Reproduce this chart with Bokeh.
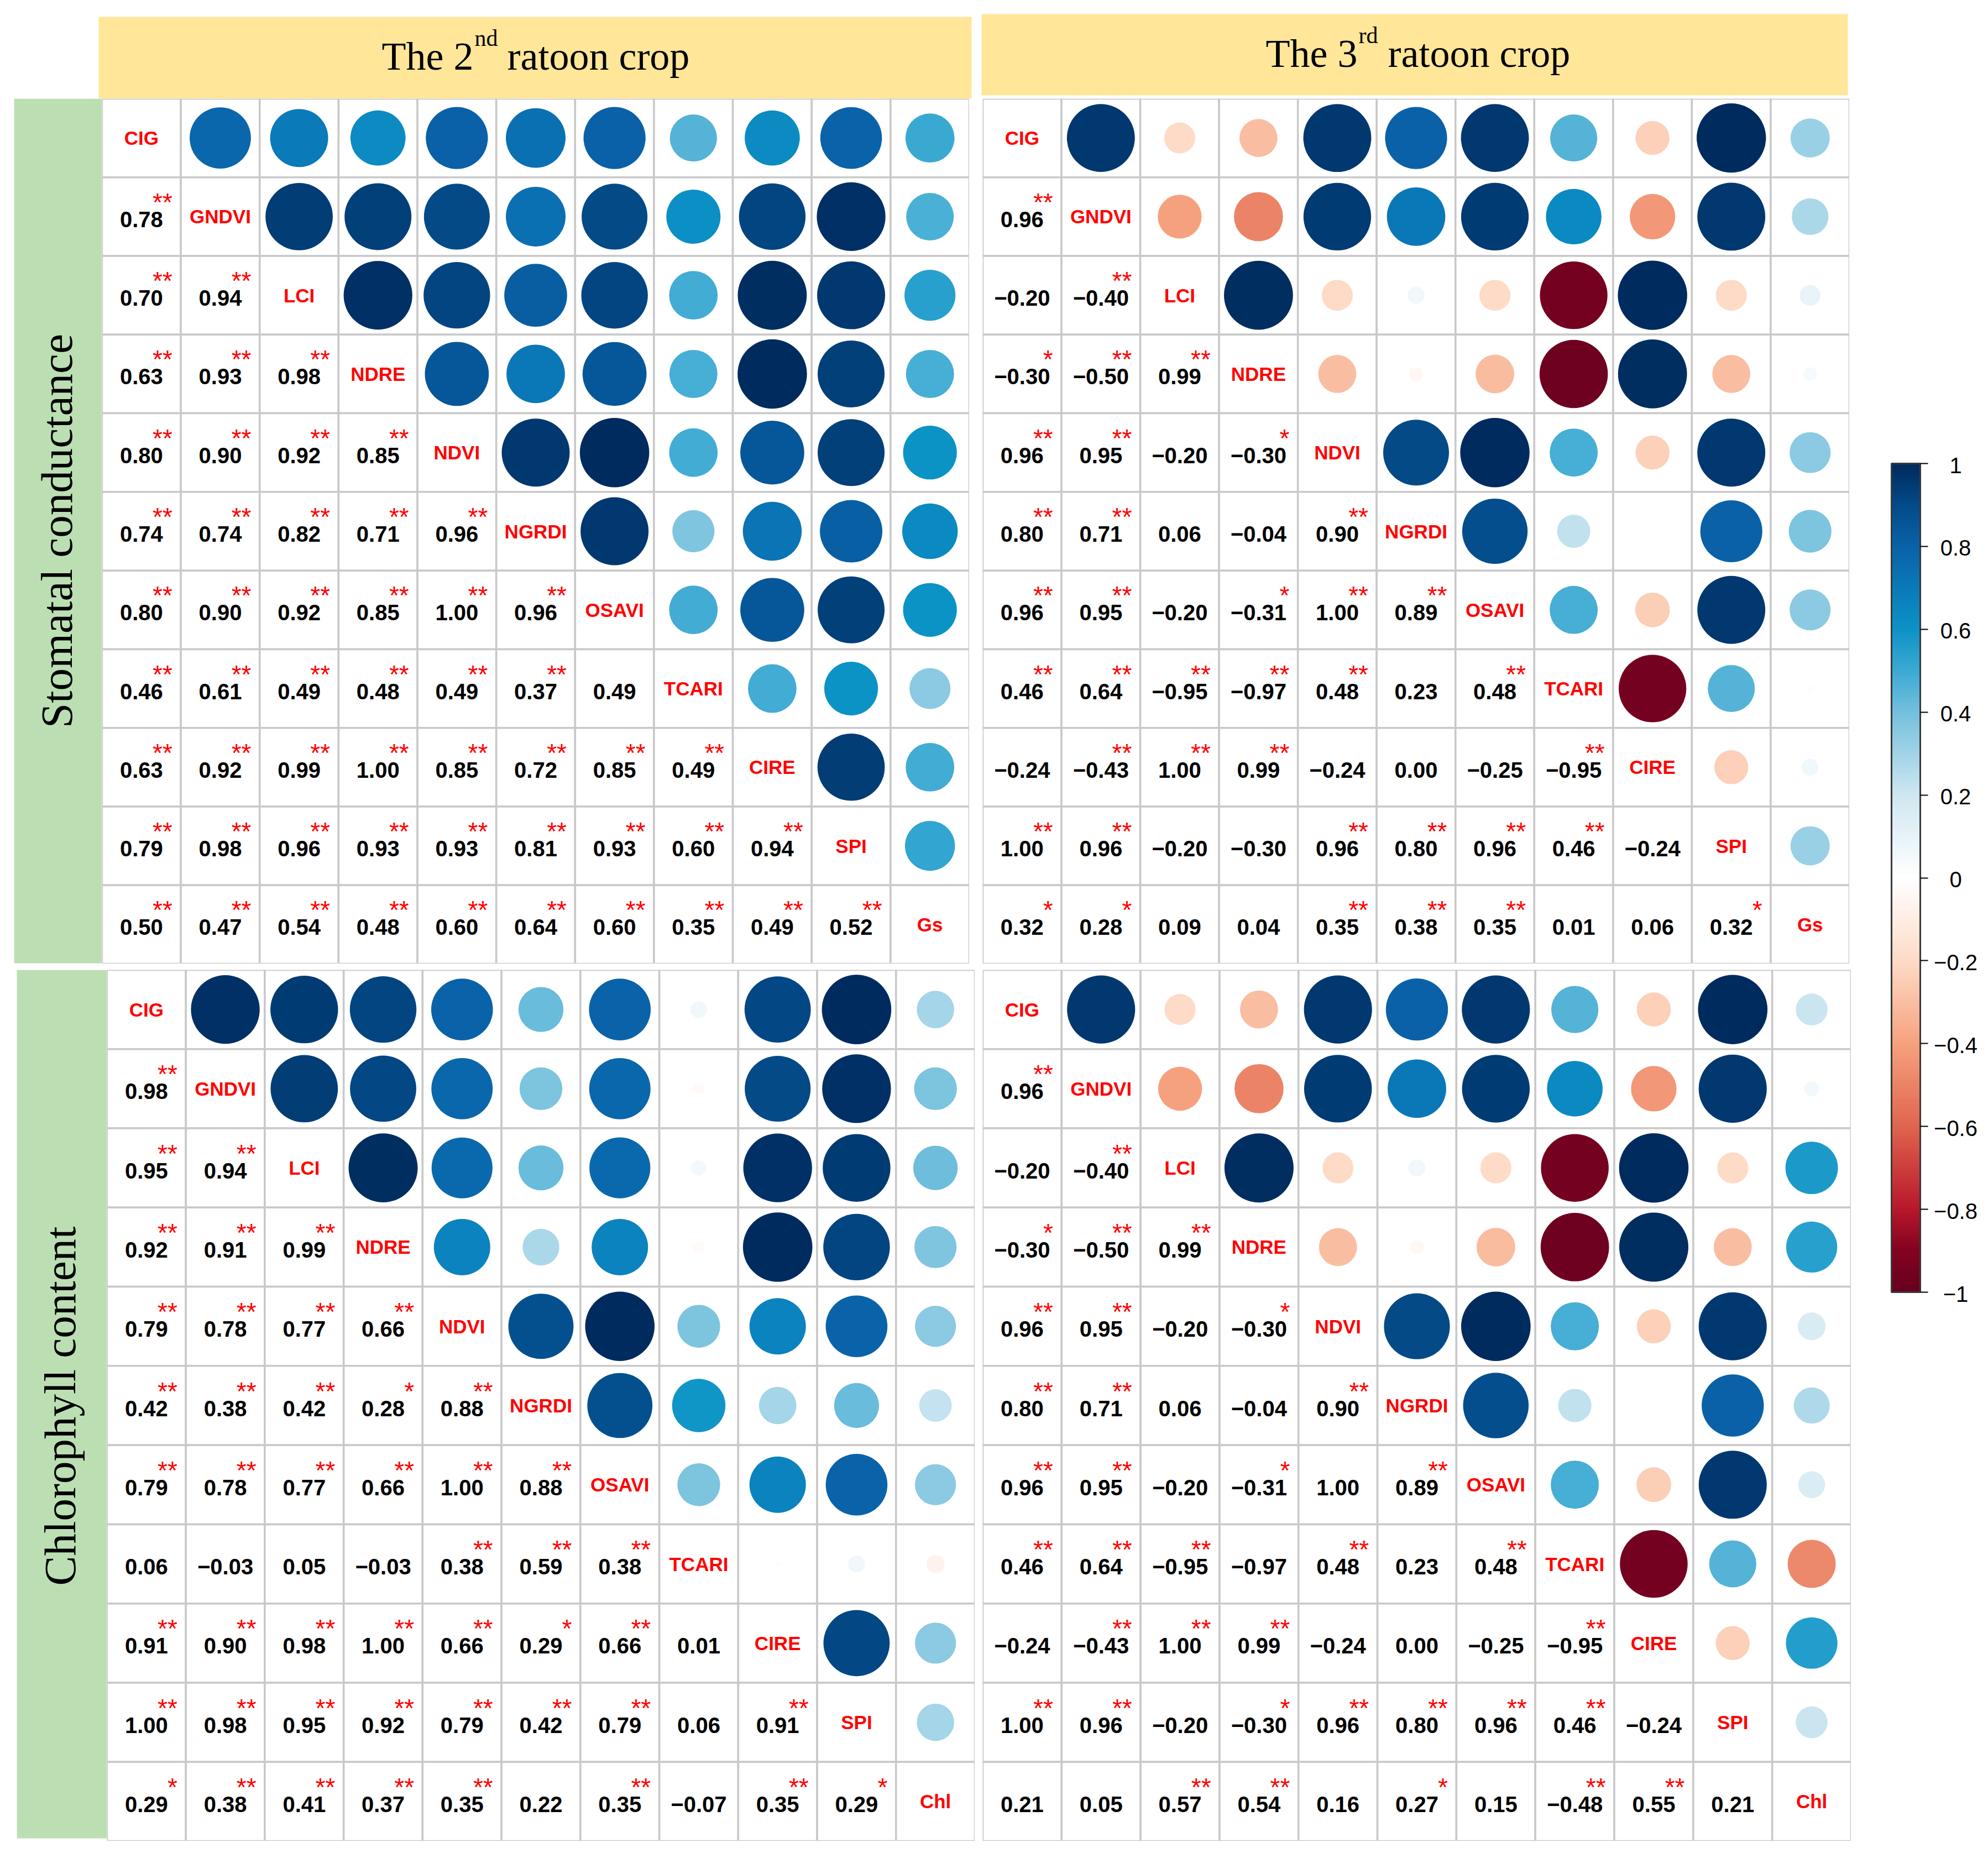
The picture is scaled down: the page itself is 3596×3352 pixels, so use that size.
import numpy as np
from bokeh.plotting import figure
from bokeh.models import (ColumnDataSource, LinearColorMapper, ColorBar, FixedTicker,
                          CustomJSTickFormatter, FactorRange, Range1d, Spacer)
from bokeh.layouts import row, column
from bokeh.transform import transform
from bokeh.core.properties import value
from bokeh.embed import file_html
from bokeh.resources import INLINE

# ---------------- data ----------------
VARS_GS = ["CIG", "GNDVI", "LCI", "NDRE", "NDVI", "NGRDI", "OSAVI", "TCARI", "CIRE", "SPI", "Gs"]
VARS_CHL = ["CIG", "GNDVI", "LCI", "NDRE", "NDVI", "NGRDI", "OSAVI", "TCARI", "CIRE", "SPI", "Chl"]

HEADER_NUM = ["2", "3"]
HEADER_SUP = ["nd", "rd"]
HEADER_REST = "ratoon crop"
SIDE_LABELS = ["Stomatal conductance", "Chlorophyll content"]

# 2nd ratoon crop, stomatal conductance (lower triangle, row by row)
R2_GS = [
    [],
    [0.78],
    [0.70, 0.94],
    [0.63, 0.93, 0.98],
    [0.80, 0.90, 0.92, 0.85],
    [0.74, 0.74, 0.82, 0.71, 0.96],
    [0.80, 0.90, 0.92, 0.85, 1.00, 0.96],
    [0.46, 0.61, 0.49, 0.48, 0.49, 0.37, 0.49],
    [0.63, 0.92, 0.99, 1.00, 0.85, 0.72, 0.85, 0.49],
    [0.79, 0.98, 0.96, 0.93, 0.93, 0.81, 0.93, 0.60, 0.94],
    [0.50, 0.47, 0.54, 0.48, 0.60, 0.64, 0.60, 0.35, 0.49, 0.52],
]
S2_GS = [
    [],
    ["**"],
    ["**", "**"],
    ["**", "**", "**"],
    ["**", "**", "**", "**"],
    ["**", "**", "**", "**", "**"],
    ["**", "**", "**", "**", "**", "**"],
    ["**", "**", "**", "**", "**", "**", ""],
    ["**", "**", "**", "**", "**", "**", "**", "**"],
    ["**", "**", "**", "**", "**", "**", "**", "**", "**"],
    ["**", "**", "**", "**", "**", "**", "**", "**", "**", "**"],
]

# 3rd ratoon crop, stomatal conductance
R3_GS = [
    [],
    [0.96],
    [-0.20, -0.40],
    [-0.30, -0.50, 0.99],
    [0.96, 0.95, -0.20, -0.30],
    [0.80, 0.71, 0.06, -0.04, 0.90],
    [0.96, 0.95, -0.20, -0.31, 1.00, 0.89],
    [0.46, 0.64, -0.95, -0.97, 0.48, 0.23, 0.48],
    [-0.24, -0.43, 1.00, 0.99, -0.24, 0.00, -0.25, -0.95],
    [1.00, 0.96, -0.20, -0.30, 0.96, 0.80, 0.96, 0.46, -0.24],
    [0.32, 0.28, 0.09, 0.04, 0.35, 0.38, 0.35, 0.01, 0.06, 0.32],
]
S3_GS = [
    [],
    ["**"],
    ["", "**"],
    ["*", "**", "**"],
    ["**", "**", "", "*"],
    ["**", "**", "", "", "**"],
    ["**", "**", "", "*", "**", "**"],
    ["**", "**", "**", "**", "**", "", "**"],
    ["", "**", "**", "**", "", "", "", "**"],
    ["**", "**", "", "", "**", "**", "**", "**", ""],
    ["*", "*", "", "", "**", "**", "**", "", "", "*"],
]

# 2nd ratoon crop, chlorophyll content
R2_CHL = [
    [],
    [0.98],
    [0.95, 0.94],
    [0.92, 0.91, 0.99],
    [0.79, 0.78, 0.77, 0.66],
    [0.42, 0.38, 0.42, 0.28, 0.88],
    [0.79, 0.78, 0.77, 0.66, 1.00, 0.88],
    [0.06, -0.03, 0.05, -0.03, 0.38, 0.59, 0.38],
    [0.91, 0.90, 0.98, 1.00, 0.66, 0.29, 0.66, 0.01],
    [1.00, 0.98, 0.95, 0.92, 0.79, 0.42, 0.79, 0.06, 0.91],
    [0.29, 0.38, 0.41, 0.37, 0.35, 0.22, 0.35, -0.07, 0.35, 0.29],
]
S2_CHL = [
    [],
    ["**"],
    ["**", "**"],
    ["**", "**", "**"],
    ["**", "**", "**", "**"],
    ["**", "**", "**", "*", "**"],
    ["**", "**", "**", "**", "**", "**"],
    ["", "", "", "", "**", "**", "**"],
    ["**", "**", "**", "**", "**", "*", "**", ""],
    ["**", "**", "**", "**", "**", "**", "**", "", "**"],
    ["*", "**", "**", "**", "**", "", "**", "", "**", "*"],
]

# 3rd ratoon crop, chlorophyll content
R3_CHL = [
    [],
    [0.96],
    [-0.20, -0.40],
    [-0.30, -0.50, 0.99],
    [0.96, 0.95, -0.20, -0.30],
    [0.80, 0.71, 0.06, -0.04, 0.90],
    [0.96, 0.95, -0.20, -0.31, 1.00, 0.89],
    [0.46, 0.64, -0.95, -0.97, 0.48, 0.23, 0.48],
    [-0.24, -0.43, 1.00, 0.99, -0.24, 0.00, -0.25, -0.95],
    [1.00, 0.96, -0.20, -0.30, 0.96, 0.80, 0.96, 0.46, -0.24],
    [0.21, 0.05, 0.57, 0.54, 0.16, 0.27, 0.15, -0.48, 0.55, 0.21],
]
S3_CHL = [
    [],
    ["**"],
    ["", "**"],
    ["*", "**", "**"],
    ["**", "**", "", "*"],
    ["**", "**", "", "", "**"],
    ["**", "**", "", "*", "", "**"],
    ["**", "**", "**", "", "**", "", "**"],
    ["", "**", "**", "**", "", "", "", "**"],
    ["**", "**", "", "*", "**", "**", "**", "**", ""],
    ["", "", "**", "**", "", "*", "", "**", "**", ""],
]

CB_TICKS = [-1.0, -0.8, -0.6, -0.4, -0.2, 0.0, 0.2, 0.4, 0.6, 0.8, 1.0]
CB_LABELS = ["\u22121", "\u22120.8", "\u22120.6", "\u22120.4", "\u22120.2", "0",
             "0.2", "0.4", "0.6", "0.8", "1"]

# ---------------- styling ----------------
COLOR_STOPS = [(-1.0, "#67001F"), (-0.9, "#840321"), (-0.8, "#B8182B"), (-0.6, "#E0654F"),
               (-0.4, "#F6A27F"), (-0.2, "#FDDBC7"), (0.0, "#FFFFFF"), (0.2, "#CFE7F1"),
               (0.4, "#74C0DD"), (0.5, "#3DAAD3"), (0.6, "#0C93C6"), (0.7, "#0A7AB9"),
               (0.8, "#0A62A8"), (0.9, "#034C8A"), (1.0, "#002B5E")]


def hex2rgb(h):
    return [int(h[k:k + 2], 16) for k in (1, 3, 5)]


stops = np.array([s for s, _ in COLOR_STOPS])
rgbs = np.array([hex2rgb(c) for _, c in COLOR_STOPS], dtype=float)
grid_v = np.linspace(-1, 1, 256)
PALETTE = []
for v in grid_v:
    c = [int(round(np.interp(v, stops, rgbs[:, k]))) for k in range(3)]
    PALETTE.append("#%02x%02x%02x" % tuple(c))

mapper = LinearColorMapper(palette=PALETTE, low=-1, high=1)

YELLOW = "#FFE699"
GREEN = "#BBDFB3"
GRID = "#C9C9C9"
SANS = value("Liberation Sans")
SERIF = value("Liberation Serif")


def fmt(v):
    s = f"{abs(v):.2f}"
    return ("\u2212" + s) if v < 0 else s


def base_fig(w, h, xr, yr):
    p = figure(width=w, height=h, x_range=xr, y_range=yr, output_backend="svg",
               toolbar_location=None, min_border=0, x_axis_location=None,
               y_axis_location=None, outline_line_color=None,
               background_fill_color="white", border_fill_color="white")
    p.grid.visible = False
    return p


def make_panel(names, lower, stars, w, h):
    n = len(names)
    M = np.eye(n)
    for i in range(n):
        for j in range(i):
            M[i, j] = M[j, i] = lower[i][j]

    cells = dict(x=[], y=[])
    low = dict(x=[], y=[], label=[], star=[])
    up = dict(x=[], y=[], r=[], rad=[])
    diag = dict(x=list(names), y=list(names), label=list(names))
    for i in range(n):
        for j in range(n):
            cells["x"].append(names[j])
            cells["y"].append(names[i])
            if j < i:
                low["x"].append(names[j])
                low["y"].append(names[i])
                low["label"].append(fmt(lower[i][j]))
                low["star"].append(stars[i][j])
            elif j > i:
                up["x"].append(names[j])
                up["y"].append(names[i])
                up["r"].append(M[i, j])
                up["rad"].append(0.44 * np.sqrt(abs(M[i, j])))

    p = base_fig(w, h, FactorRange(factors=list(names)), FactorRange(factors=list(names)[::-1]))
    p.rect(x="x", y="y", width=1, height=1, source=ColumnDataSource(cells),
           fill_color="white", line_color=GRID, line_width=3.5)
    p.circle(x="x", y="y", radius="rad", source=ColumnDataSource(up),
             fill_color=transform("r", mapper), line_color=None)
    src_low = ColumnDataSource(low)
    p.text(x="x", y="y", text="label", source=src_low, text_font=SANS,
           text_font_style="bold", text_font_size="40px", text_color="black",
           text_align="center", text_baseline="alphabetic", y_offset=5)
    p.text(x="x", y="y", text="star", source=src_low, text_font=SANS,
           text_font_size="46px", text_color="#FF0000",
           text_align="right", text_baseline="alphabetic", x_offset=56, y_offset=-26)
    p.text(x="x", y="y", text="label", source=ColumnDataSource(diag), text_font=SANS,
           text_font_style="bold", text_font_size="35px", text_color="#FF0000",
           text_align="center", text_baseline="alphabetic", y_offset=0)
    return p


# ---------------- header band ----------------
hdr = base_fig(3580, 170, Range1d(8, 3588), Range1d(178, 8))
hdr.quad(left=[178, 1775], right=[1757, 3342], top=[30, 25], bottom=[178, 172],
         fill_color=YELLOW, line_color=None)
hdr.text(x=[856, 2455], y=[101, 96], text=["The " + HEADER_NUM[0], "The " + HEADER_NUM[1]],
         text_font=SERIF, text_font_size="72px", text_color="black",
         text_align="right", text_baseline="alphabetic")
hdr.text(x=[858, 2457], y=[68, 63], text=HEADER_SUP,
         text_font=SERIF, text_font_size="42px", text_color="black",
         text_align="left", text_baseline="alphabetic")
hdr.text(x=[917, 2510], y=[101, 96], text=[HEADER_REST, HEADER_REST],
         text_font=SERIF, text_font_size="72px", text_color="black",
         text_align="left", text_baseline="alphabetic")

# ---------------- side bands ----------------
g1 = base_fig(176, 1565, Range1d(8, 184), Range1d(1743, 178))
g1.quad(left=[25], right=[184], top=[178], bottom=[1742], fill_color=GREEN, line_color=None)
g1.text(x=[102], y=[960], text=[SIDE_LABELS[0]], angle=np.pi / 2, text_font=SERIF,
        text_font_size="81px", text_color="black", text_align="center",
        text_baseline="alphabetic")

g2 = base_fig(185, 1576, Range1d(8, 193), Range1d(3330, 1754))
g2.quad(left=[30], right=[193], top=[1754], bottom=[3325], fill_color=GREEN, line_color=None)
g2.text(x=[108], y=[2543], text=[SIDE_LABELS[1]], angle=np.pi / 2, text_font=SERIF,
        text_font_size="81px", text_color="black", text_align="center",
        text_baseline="alphabetic")

# ---------------- panels ----------------
p1 = make_panel(VARS_GS, R2_GS, S2_GS, 1569, 1565)
p2 = make_panel(VARS_GS, R3_GS, S3_GS, 1568, 1565)
p3 = make_panel(VARS_CHL, R2_CHL, S2_CHL, 1570, 1576)
p4 = make_panel(VARS_CHL, R3_CHL, S3_CHL, 1571, 1576)

# ---------------- colour bar ----------------
CB_FIG_H = 3152
CB_BOTTOM = 993       # bar bottom, px above the figure's bottom edge
CB_LEN = 1499         # bar length in px
units_per_px = 2.0 / CB_LEN
cb_y0 = -1 - CB_BOTTOM * units_per_px
cb_y1 = 1 + (CB_FIG_H - CB_BOTTOM - CB_LEN) * units_per_px
cbf = base_fig(240, CB_FIG_H, Range1d(0, 240), Range1d(cb_y0, cb_y1))
cb = ColorBar(color_mapper=mapper, ticker=FixedTicker(ticks=CB_TICKS),
              formatter=CustomJSTickFormatter(code="return '';"),
              location=(73, CB_BOTTOM), width=52, height=CB_LEN, orientation="vertical",
              padding=0, bar_line_color="#3a3a3a", bar_line_width=3,
              major_tick_in=0, major_tick_out=14, major_tick_line_color="black",
              major_tick_line_width=2, minor_tick_line_color=None,
              major_label_text_font_size="1px", label_standoff=0,
              background_fill_alpha=0, border_line_color=None)
cbf.add_layout(cb, "center")
cbf.text(x=[189] * len(CB_TICKS), y=CB_TICKS, text=CB_LABELS, text_font=SANS,
         text_font_size="40px", text_color="black", text_align="center",
         text_baseline="alphabetic", y_offset=3)

top_row = row(g1, p1, Spacer(width=24, height=1565), p2, spacing=0)
bot_row = row(g2, p3, Spacer(width=14, height=1576), p4, spacing=0)
grid_col = column(top_row, Spacer(width=10, height=11), bot_row, spacing=0)
body = column(hdr, row(grid_col, cbf, spacing=0), spacing=0)
layout = column(Spacer(width=8, height=8), row(Spacer(width=8, height=8), body, spacing=0),
                spacing=0)

with open("out.html", "w") as f:
    f.write(file_html(layout, INLINE))
